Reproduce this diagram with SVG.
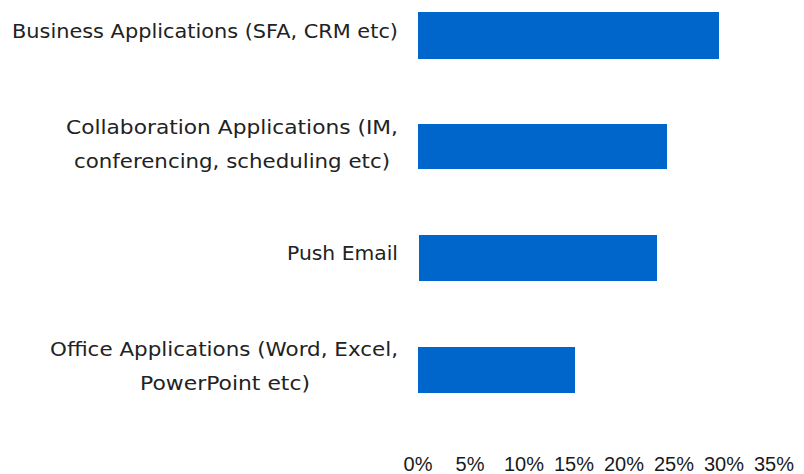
<svg xmlns="http://www.w3.org/2000/svg" width="804" height="474" viewBox="0 0 804 474">
<style>
.bar{fill:#0066CC}
.cat{font-family:"DejaVu Sans","Liberation Sans",sans-serif;font-size:19.5px;fill:#222222}
.ax{font-family:"Liberation Sans",Arial,sans-serif;font-size:20px;fill:#1a1a1a;text-anchor:middle}
</style>
<rect width="804" height="474" fill="#ffffff"/>
<g id="bar-business"><rect class="bar" x="418" y="12" width="301" height="47"/>
<text class="cat" x="398" y="38" text-anchor="end" textLength="386" lengthAdjust="spacingAndGlyphs">Business Applications (SFA, CRM etc)</text></g>
<g id="bar-collaboration"><rect class="bar" x="418" y="124" width="249" height="45"/>
<text class="cat" x="232" y="134" text-anchor="middle" textLength="332" lengthAdjust="spacingAndGlyphs">Collaboration Applications (IM,</text>
<text class="cat" x="232" y="168" text-anchor="middle" textLength="316" lengthAdjust="spacingAndGlyphs">conferencing, scheduling etc)</text></g>
<g id="bar-push"><rect class="bar" x="419" y="235" width="238" height="46"/>
<text class="cat" x="398" y="260" text-anchor="end" textLength="111" lengthAdjust="spacingAndGlyphs">Push Email</text></g>
<g id="bar-office"><rect class="bar" x="418" y="347" width="157" height="46"/>
<text class="cat" x="224" y="356" text-anchor="middle" textLength="348" lengthAdjust="spacingAndGlyphs">Office Applications (Word, Excel,</text>
<text class="cat" x="225" y="390" text-anchor="middle" textLength="170" lengthAdjust="spacingAndGlyphs">PowerPoint etc)</text></g>
<g id="axis">
<text class="ax" x="418" y="471">0%</text>
<text class="ax" x="470" y="471">5%</text>
<text class="ax" x="524" y="471">10%</text>
<text class="ax" x="574" y="471">15%</text>
<text class="ax" x="624" y="471">20%</text>
<text class="ax" x="674" y="471">25%</text>
<text class="ax" x="724" y="471">30%</text>
<text class="ax" x="774" y="471">35%</text>
</g>
</svg>
